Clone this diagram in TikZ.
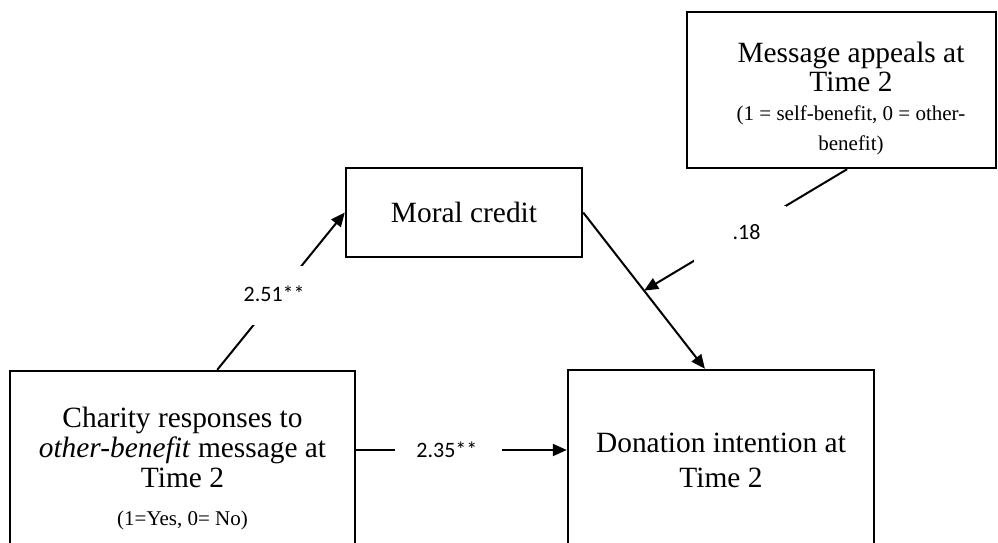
\documentclass[tikz,border=0pt]{standalone}
\usepackage{fontspec}
\setmainfont{Liberation Serif}
\newfontfamily\coeffont{Carlito}
\usetikzlibrary{arrows.meta,calc}

\begin{document}
\begin{tikzpicture}[x=0.5pt,y=-0.5pt,line width=1pt,>={Triangle[length=7pt,width=6pt]},
  box/.style={draw,line width=1.2pt,inner sep=0pt,align=center},
  coef/.style={fill=white,inner sep=0pt,font=\coeffont\fontsize{11}{13}\selectfont}]
% 画布（像素坐标，y 向下）
\useasboundingbox (0,0) rectangle (998,542);
\clip (0,0) rectangle (998,542);
% 四个方框
\node[box,minimum width=154.5pt,minimum height=78pt] (msg) at (841.5,90) {};
\node[align=center,font=\fontsize{14.7}{14.5}\selectfont] (msgtxt) at (851,99)
  {Message appeals at\\Time 2\\{\fontsize{10.5}{14.5}\selectfont (1 = self-benefit, 0 = other-}\\[0.5pt]
   {\fontsize{10.5}{14.5}\selectfont benefit)}};
\node[box,minimum width=118pt,minimum height=44.5pt,font=\fontsize{14.7}{14}\selectfont] (mc) at (464,212.5) {Moral credit};
\node[box,minimum width=172.5pt,minimum height=98pt,font=\fontsize{14.7}{14.5}\selectfont] (cr) at (182.5,469)
  {Charity responses to\\[0.5pt]\textit{other-benefit} message at\\[0.5pt]Time 2\\[4.5pt]
   {\fontsize{10.5}{14.5}\selectfont (1=Yes, 0= No)}};
\node[box,minimum width=153pt,minimum height=90.5pt,font=\fontsize{14.7}{17.5}\selectfont] (dn) at (721,460.5)
  {Donation intention at\\Time 2};
% 辅助点
\coordinate (crtop) at ($(cr.north west)!0.6!(cr.north east)$);
\coordinate (dntop) at ($(dn.north west)!0.448!(dn.north east)$);
\coordinate (mid) at ($(mc.east)!0.5!(dntop)$);
\coordinate (msgbot) at ($(msg.south west)!0.518!(msg.south east)$);
\coordinate (hz) at (0,450);
% 路径与系数
\draw[->] (crtop) -- (mc.west) node[coef,minimum height=29.5pt,pos=0.47] {\raisebox{2pt}{2.51**}\hspace*{3pt}};
\draw[->] (mc.east) -- (dntop);
\draw[->] (msgbot) -- (mid) node[coef,minimum width=46pt,minimum height=28pt,pos=0.53] {\hspace*{7pt}\raisebox{1.75pt}{.18}};
\draw[->] (cr.east |- hz) -- (dn.west |- hz) node[coef,minimum width=53.5pt,minimum height=14pt,pos=0.44] {2.35**\hspace*{2pt}};
\end{tikzpicture}
\end{document}
